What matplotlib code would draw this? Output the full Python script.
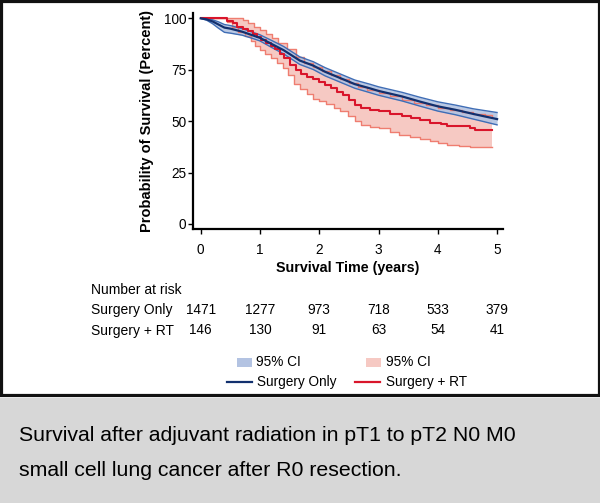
import matplotlib

matplotlib.use("Agg")
import matplotlib.pyplot as plt
import matplotlib.transforms as mtransforms
import numpy as np
from matplotlib.patches import Rectangle

plt.rcParams["font.family"] = ["Liberation Sans", "DejaVu Sans"]

# --- data ------------------------------------------------------------------
years = [0, 1, 2, 3, 4, 5]
risk_surgery = [1471, 1277, 973, 718, 533, 379]
risk_rt = [146, 130, 91, 63, 54, 41]

# Surgery only (smooth-looking KM curve, many patients)
so_t = [0, 0.1, 0.2, 0.3, 0.4, 0.5, 0.7, 0.9, 1.0, 1.2, 1.4, 1.67, 1.9, 2.1,
        2.35, 2.6, 2.85, 3.0, 3.4, 3.7, 4.0, 4.3, 4.6, 5.0]
so_s = [100, 99.5, 98.5, 97, 95.5, 95, 93.5, 91.5, 90.5, 87.5, 84.5, 79.5, 77,
        74, 71, 68, 66, 64.7, 62, 59.5, 57.2, 55.5, 53.5, 51]
so_hi = [100, 99.8, 99.3, 98.3, 97, 96.5, 95, 93, 92, 89.2, 86.3, 81.3, 78.9,
         76, 73, 70, 68, 66.7, 64, 61.6, 59.4, 57.8, 56, 54.2]
so_lo = [100, 99.1, 97.4, 95.2, 93.2, 92.8, 91.8, 90, 89, 85.8, 82.7, 77.6,
         75.1, 72, 69, 66, 63.9, 62.6, 59.8, 57.3, 54.9, 53.1, 51, 48.2]

# Surgery + RT (step curve)
rt_t = [0, 0.45, 0.55, 0.62, 0.72, 0.8, 0.88, 0.95, 1.02, 1.1, 1.18, 1.25,
        1.33, 1.4, 1.5, 1.6, 1.7, 1.8, 1.9, 2.0, 2.1, 2.2, 2.3, 2.4, 2.5,
        2.6, 2.7, 2.85, 3.0, 3.2, 3.4, 3.55, 3.7, 3.87, 4.05, 4.15, 4.55,
        4.62, 4.92]
rt_s = [100, 98.5, 97.5, 96, 95, 94, 92.5, 91, 89.5, 88, 86.5, 85, 82.5,
        80.5, 77.5, 75, 73, 71.5, 70.5, 69, 67.5, 66, 64, 62.5, 60.5, 58,
        56.5, 55.5, 54.7, 53.5, 52.3, 51.5, 50.5, 49.3, 48.5, 47.5, 46.8,
        45.8, 45.8]

rt_lo_t = [0, 0.45, 0.52, 0.63, 0.75, 0.85, 0.92, 1.0, 1.08, 1.18, 1.28,
           1.38, 1.48, 1.58, 1.67, 1.8, 1.9, 2.0, 2.12, 2.25, 2.35, 2.48,
           2.6, 2.7, 2.85, 3.0, 3.2, 3.35, 3.53, 3.7, 3.87, 4.0, 4.15, 4.35,
           4.55, 4.92]
rt_lo = [100, 98, 96, 93.3, 91.5, 89, 86.5, 84.5, 82.5, 80.5, 78.5, 76, 72.5,
         68, 65.5, 63, 61, 60, 58.5, 56.5, 54.7, 52.5, 50, 48, 47.3, 46.5,
         44.5, 43.5, 42.5, 41.5, 40.2, 39.5, 38.5, 38, 37.2, 37.2]

rt_hi_t = [0, 0.65, 0.72, 0.8, 0.9, 1.0, 1.1, 1.2, 1.3, 1.45, 1.6, 1.75, 1.9,
           2.05, 2.2, 2.35, 2.5, 2.65, 2.8, 3.0, 3.2, 3.4, 3.6, 3.8, 4.0,
           4.2, 4.4, 4.6, 4.8, 4.92]
rt_hi = [100, 100, 99, 97.5, 96, 94.5, 92.5, 90.5, 88, 85, 81, 78.5, 76.5,
         74.5, 72.5, 70.5, 68.5, 66.5, 65, 63.5, 62, 60.5, 59, 57.8, 56.5,
         55.3, 54.5, 53.5, 52.8, 52.2]

NAVY = "#12306e"
BLUE_EDGE = "#3f6db5"
BLUE_FILL = "#b3c3e2"
RED = "#d9152b"
RED_EDGE = "#ef7d70"
RED_FILL = "#f6c9c3"


def step_eval(t, v, grid):
    # value of a right-continuous step curve at each grid point
    idx = np.searchsorted(np.array(t), grid, side="right") - 1
    return np.array(v)[idx]


W, H = 600, 503
fig = plt.figure(figsize=(W / 100, H / 100), dpi=100)

# overlay in pixel coordinates for frame, risk table, legend and caption
ov = fig.add_axes([0, 0, 1, 1], zorder=0)
ov.set_xlim(0, W)
ov.set_ylim(H, 0)
ov.axis("off")
ov.add_patch(Rectangle((0, 398), W, H - 398, facecolor="#d7d7d7",
                       edgecolor="none"))
ov.add_patch(Rectangle((1.4, 1.4), W - 2.8, 394, facecolor="none",
                       edgecolor="#111111", linewidth=2.3))

ax = fig.add_axes([193 / W, 1 - 229.3 / H, 310 / W, (229.3 - 13) / H],
                  zorder=1)
ax.set_facecolor("none")

# CI bands
grid = np.union1d(rt_lo_t, rt_hi_t)
ax.fill_between(grid, step_eval(rt_lo_t, rt_lo, grid),
                step_eval(rt_hi_t, rt_hi, grid), step="post",
                color=RED_FILL, linewidth=0, zorder=1)
ax.fill_between(so_t, so_lo, so_hi, color=BLUE_FILL, linewidth=0,
                alpha=0.9, zorder=2)

ax.step(rt_lo_t, rt_lo, where="post", color=RED_EDGE, lw=1.0, zorder=3)
ax.step(rt_hi_t, rt_hi, where="post", color=RED_EDGE, lw=1.0, zorder=3)
ax.plot(so_t, so_hi, color=BLUE_EDGE, lw=1.0, zorder=3)
ax.plot(so_t, so_lo, color=BLUE_EDGE, lw=1.0, zorder=3)

ax.step(rt_t, rt_s, where="post", color=RED, lw=1.5, zorder=4)
ax.plot(so_t, so_s, color=NAVY, lw=1.6, zorder=5)

ax.set_xlim(-0.13, 5.1)
ax.set_ylim(-2.6, 102.6)
ax.set_xticks(years)
ax.set_yticks([0, 25, 50, 75, 100])
for side in ("top", "right"):
    ax.spines[side].set_visible(False)
for side in ("left", "bottom"):
    ax.spines[side].set_linewidth(1.6)
ax.tick_params(axis="both", length=3.5, width=1.0, labelsize=9.8)
ax.tick_params(axis="x", pad=6.5)
ax.tick_params(axis="y", pad=1.5)
ax.set_xlabel("Survival Time (years)", fontsize=10.3, fontweight="bold",
              labelpad=3)
ax.set_ylabel("Probability of Survival (Percent)", fontsize=10.5,
              fontweight="bold", labelpad=7)

# number at risk table
ov.text(91, 290, "Number at risk", fontsize=10, va="center")
ov.text(91, 310, "Surgery Only", fontsize=10, va="center")
ov.text(91, 330.5, "Surgery + RT", fontsize=10, va="center")
tr = mtransforms.blended_transform_factory(ax.transData, ov.transData)
for x, a, b in zip(years, risk_surgery, risk_rt):
    ax.text(x, 310, str(a), transform=tr, fontsize=9.8, ha="center",
            va="center", clip_on=False)
    ax.text(x, 330.5, str(b), transform=tr, fontsize=9.8, ha="center",
            va="center", clip_on=False)

# legend
ov.add_patch(Rectangle((237, 357.5), 14.5, 9.5, facecolor=BLUE_FILL,
                       edgecolor="none"))
ov.text(256, 362.5, "95% CI", fontsize=9.8, va="center")
ov.add_patch(Rectangle((366, 357.5), 14.5, 9.5, facecolor=RED_FILL,
                       edgecolor="none"))
ov.text(386, 362.5, "95% CI", fontsize=9.8, va="center")
ov.plot([227, 251.5], [382, 382], color=NAVY, lw=1.6)
ov.text(257, 382, "Surgery Only", fontsize=9.8, va="center")
ov.plot([355, 380], [382, 382], color=RED, lw=1.6)
ov.text(386, 382, "Surgery + RT", fontsize=9.8, va="center")

# caption
cap = dict(fontsize=15.3, va="baseline")
ov.text(19, 441, "Survival after adjuvant radiation in pT1 to pT2 N0 M0",
        **cap)
ov.text(19, 476, "small cell lung cancer after R0 resection.", **cap)

fig.savefig("out.png", dpi=100)
